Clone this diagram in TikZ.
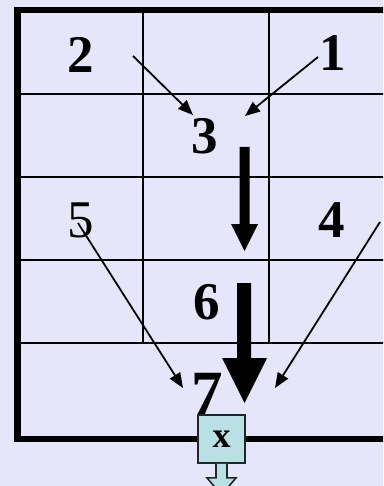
\documentclass[tikz,border=0pt]{standalone}
\usepackage{fontspec}
\setmainfont{Liberation Serif}
\usetikzlibrary{arrows.meta}
\definecolor{bglav}{RGB}{230,230,250}
\definecolor{boxcyan}{RGB}{185,224,228}
\definecolor{boxedge}{RGB}{30,40,40}
\begin{document}
\begin{tikzpicture}[x=1pt,y=-1pt,
  numlbl/.style={inner sep=0pt,font=\fontsize{53}{60}\selectfont\bfseries},
  numreg/.style={inner sep=0pt,font=\fontsize{53}{60}\selectfont},
  gridline/.style={line width=2.6pt},
  frameline/.style={line width=6.5pt},
  thinarrow/.style={line width=1.8pt,-{Triangle[length=15pt,width=12pt]}},
  bigarrow/.style={fill=black}
]
\fill[bglav] (0,0) rectangle (383,486);
\clip (0,0) rectangle (383,486);
% grid
\foreach \yy in {94,177,260,343} \draw[gridline] (14,\yy) -- (390,\yy);
\foreach \xx in {143,269} \draw[gridline] (\xx,10) -- (\xx,343);
% frame
\draw[frameline] (390,10) -- (17.5,10) -- (17.5,439) -- (390,439);
% numbers
\node[numlbl] (n2) at (80.5,54.5) {2};
\node[numlbl] (n1) at (332.5,53.5) {1};
\node[numlbl] (n3) at (205,136.5) {3};
\node[numreg] (n5) at (81,220) {5};
\node[numlbl] (n4) at (332,220) {4};
\node[numlbl] (n6) at (206.5,302.5) {6};
\node[inner sep=0pt,font=\fontsize{63}{70}\selectfont\bfseries] (n7) at (207,393.5) {7};
% thin arrow endpoints
\coordinate (a2s) at (133,56);
\coordinate (a2e) at (193,115);
\coordinate (a1s) at (318,57);
\coordinate (a1e) at (245,116);
\coordinate (a5s) at (78,223);
\coordinate (a5e) at (183,388);
\coordinate (a4s) at (380,222);
\coordinate (a4e) at (275,388);
\draw[thinarrow] (a2s) -- (a2e);
\draw[thinarrow] (a1s) -- (a1e);
\draw[thinarrow] (a5s) -- (a5e);
\draw[thinarrow] (a4s) -- (a4e);
% thick arrows
\fill[bigarrow] (239.5,147) -- (249.5,147) -- (249.5,224) -- (258,224) -- (244.5,251) -- (231,224) -- (239.5,224) -- cycle;
\fill[bigarrow] (237,283) -- (251,283) -- (251,358) -- (267,358) -- (244.5,403) -- (222,358) -- (237,358) -- cycle;
% output box
\node[draw=boxedge,fill=boxcyan,line width=1.8pt,minimum width=47pt,minimum height=48pt,inner sep=0pt,
      font=\fontsize{36}{40}\selectfont\bfseries] (bx) at (221.5,439) {x};
\filldraw[fill=boxcyan,draw=boxedge,line width=1.6pt]
  (bx.south) ++(-5.5,0) -- ++(0,14) -- ++(-9,0) -- ++(14.5,17) -- ++(14.5,-17) -- ++(-9,0) -- ++(0,-14);
\end{tikzpicture}
\end{document}
